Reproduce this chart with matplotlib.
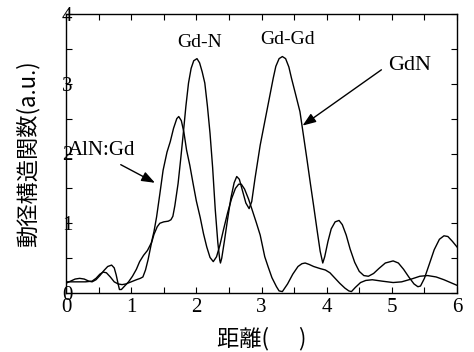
import matplotlib
matplotlib.use("Agg")
import matplotlib.pyplot as plt
from matplotlib.ticker import MultipleLocator

# GdN radial distribution (distance, amplitude)
gdn_x = [0.00, 0.10, 0.20, 0.30, 0.40, 0.46, 0.52, 0.57, 0.62, 0.68, 0.74, 0.80,
         0.86, 0.92, 1.00, 1.08, 1.14, 1.18, 1.22, 1.26, 1.31, 1.35, 1.40, 1.44,
         1.50, 1.57, 1.61, 1.64, 1.67, 1.72, 1.76, 1.80, 1.84, 1.88, 1.92, 1.96,
         2.01, 2.05, 2.09, 2.13, 2.17, 2.21, 2.25, 2.29, 2.33, 2.36, 2.37, 2.39,
         2.43, 2.48, 2.53, 2.58, 2.62, 2.66, 2.71, 2.76, 2.81, 2.85, 2.90, 2.98,
         3.08, 3.18, 3.22, 3.27, 3.32, 3.37, 3.42, 3.46, 3.52, 3.59, 3.65, 3.70,
         3.75, 3.80, 3.85, 3.90, 3.94, 3.97, 4.02, 4.07, 4.13, 4.19, 4.24, 4.30,
         4.36, 4.43, 4.50, 4.57, 4.64, 4.72, 4.80, 4.90, 5.02, 5.10, 5.18, 5.26,
         5.34, 5.40, 5.44, 5.50, 5.57, 5.65, 5.73, 5.80, 5.86, 5.93, 6.00]
gdn_y = [0.16, 0.16, 0.16, 0.16, 0.17, 0.21, 0.27, 0.30, 0.29, 0.23, 0.16, 0.13,
         0.12, 0.13, 0.16, 0.19, 0.21, 0.23, 0.33, 0.48, 0.71, 0.84, 0.95, 1.00,
         1.02, 1.03, 1.05, 1.10, 1.25, 1.57, 1.92, 2.29, 2.68, 3.01, 3.22, 3.33,
         3.36, 3.30, 3.17, 3.01, 2.68, 2.29, 1.80, 1.20, 0.72, 0.47, 0.43, 0.50,
         0.74, 1.06, 1.36, 1.58, 1.67, 1.63, 1.46, 1.29, 1.21, 1.31, 1.64, 2.12,
         2.60, 3.08, 3.25, 3.36, 3.39, 3.36, 3.24, 3.08, 2.86, 2.60, 2.22, 1.90,
         1.57, 1.25, 0.92, 0.60, 0.43, 0.52, 0.74, 0.92, 1.02, 1.04, 0.98, 0.83,
         0.63, 0.44, 0.31, 0.25, 0.24, 0.28, 0.35, 0.43, 0.46, 0.43, 0.34, 0.23,
         0.13, 0.09, 0.10, 0.21, 0.40, 0.62, 0.77, 0.82, 0.81, 0.74, 0.66]

# AlN:Gd radial distribution
aln_x = [0.00, 0.07, 0.14, 0.21, 0.28, 0.35, 0.40, 0.46, 0.52, 0.58, 0.64, 0.70,
         0.74, 0.77, 0.80, 0.82, 0.85, 0.90, 0.96, 1.02, 1.08, 1.13, 1.19, 1.25,
         1.31, 1.35, 1.39, 1.44, 1.49, 1.55, 1.60, 1.65, 1.70, 1.73, 1.77, 1.81,
         1.85, 1.90, 1.95, 2.00, 2.06, 2.11, 2.16, 2.21, 2.26, 2.31, 2.36, 2.42,
         2.48, 2.54, 2.60, 2.65, 2.69, 2.74, 2.80, 2.85, 2.92, 2.98, 3.05, 3.10,
         3.16, 3.23, 3.27, 3.32, 3.40, 3.48, 3.56, 3.62, 3.67, 3.73, 3.80, 3.90,
         3.98, 4.05, 4.12, 4.20, 4.28, 4.34, 4.38, 4.44, 4.52, 4.60, 4.70, 4.85,
         5.02, 5.15, 5.30, 5.43, 5.55, 5.68, 5.80, 5.90, 6.00]
aln_y = [0.14, 0.17, 0.20, 0.21, 0.20, 0.17, 0.16, 0.19, 0.25, 0.32, 0.38, 0.40,
         0.36, 0.26, 0.13, 0.05, 0.05, 0.10, 0.16, 0.24, 0.34, 0.45, 0.54, 0.61,
         0.72, 0.88, 1.09, 1.42, 1.76, 2.02, 2.17, 2.36, 2.50, 2.53, 2.47, 2.30,
         2.05, 1.83, 1.57, 1.32, 1.08, 0.85, 0.66, 0.51, 0.45, 0.52, 0.68, 0.92,
         1.15, 1.35, 1.50, 1.56, 1.56, 1.49, 1.35, 1.21, 1.01, 0.83, 0.52, 0.38,
         0.22, 0.09, 0.03, 0.02, 0.13, 0.27, 0.38, 0.42, 0.43, 0.41, 0.38, 0.35,
         0.33, 0.29, 0.22, 0.14, 0.07, 0.03, 0.02, 0.08, 0.15, 0.18, 0.19, 0.17,
         0.15, 0.16, 0.20, 0.24, 0.25, 0.23, 0.19, 0.15, 0.11]

x_ticks = [0, 1, 2, 3, 4, 5, 6]
y_ticks = [0, 1, 2, 3, 4]
x_label = "距離(      )"
y_label = "動径構造関数(a.u.)"

fig = plt.figure(figsize=(4.74, 3.52), dpi=100)
ax = fig.add_axes([66/474, 59/352, (457-66)/474, (293-14)/352])

ax.plot(gdn_x, gdn_y, color="black", lw=1.0)
ax.plot(aln_x, aln_y, color="black", lw=1.0)

ax.set_xlim(0, 6)
ax.set_ylim(0, 4)
ax.set_xticks(x_ticks)
ax.set_yticks(y_ticks)
ax.xaxis.set_minor_locator(MultipleLocator(0.5))
ax.yaxis.set_minor_locator(MultipleLocator(0.5))
ax.tick_params(which="both", direction="in", top=True, right=True,
               length=4.5, width=0.8)
ax.tick_params(axis="y", which="major", pad=-4.5)
ax.tick_params(axis="x", which="major", pad=3.5)
for lab in ax.get_xticklabels() + ax.get_yticklabels():
    lab.set_fontfamily("Liberation Serif")
    lab.set_fontsize(15)
for s in ax.spines.values():
    s.set_linewidth(1.0)

ax.set_xlabel(x_label, fontsize=16, family=["Noto Sans CJK JP", "DejaVu Sans"], labelpad=7)
ax.set_ylabel(y_label, fontsize=16, family=["Noto Sans CJK JP", "DejaVu Sans"], labelpad=16)

serif = "Liberation Serif"
ax.text(2.055, 3.59, "Gd-N", fontsize=14, family=serif, ha="center", va="center")
ax.text(3.40, 3.63, "Gd-Gd", fontsize=14, family=serif, ha="center", va="center")
ax.text(0.03, 2.04, "AlN:Gd", fontsize=15, family=serif, ha="left", va="center")
ax.text(4.94, 3.26, "GdN", fontsize=16, family=serif, ha="left", va="center")

arrow = dict(arrowstyle="-|>,head_length=0.8,head_width=0.3", color="black",
             lw=1.0, shrinkA=0, shrinkB=0, mutation_scale=10)
ax.annotate("", xy=(1.365, 1.58), xytext=(0.84, 1.84), arrowprops=arrow)
ax.annotate("", xy=(3.63, 2.40), xytext=(4.84, 3.20), arrowprops=arrow)

fig.savefig("out.png", dpi=100)
